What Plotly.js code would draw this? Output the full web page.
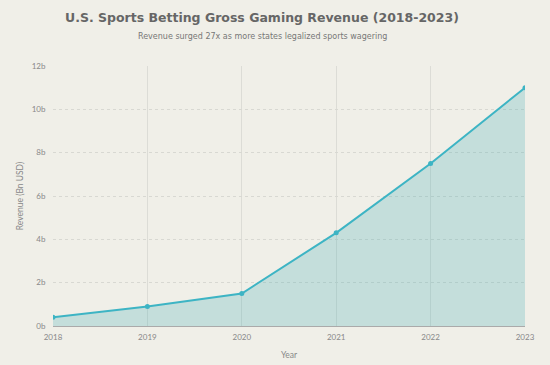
<!DOCTYPE html>
<html>
<head>
<meta charset="utf-8">
<script src="https://cdn.plot.ly/plotly-3.0.1.min.js"></script>
<style>html,body{margin:0;padding:0;background:#f0efe8;}#chart{width:550px;height:365px;}</style>
</head>
<body>
<div id="chart"></div>
<script>
var years = [2018, 2019, 2020, 2021, 2022, 2023];
var revenue = [0.4, 0.9, 1.5, 4.3, 7.5, 11.0];
var yTicks = [0, 2, 4, 6, 8, 10, 12];
var yTickLabels = ["0b", "2b", "4b", "6b", "8b", "10b", "12b"];
var titleText = 'U.S. Sports Betting Gross Gaming Revenue (2018-2023)';
var subtitleText = 'Revenue surged 27x as more states legalized sports wagering';

var trace = {
  x: years,
  y: revenue,
  type: 'scatter',
  mode: 'lines+markers',
  fill: 'tozeroy',
  fillcolor: 'rgba(64,170,180,0.25)',
  line: {color: '#3db4c4', width: 2},
  marker: {color: '#3db4c4', size: 5},
  hoverinfo: 'x+y'
};

var layout = {
  width: 550,
  height: 365,
  paper_bgcolor: '#f0efe8',
  plot_bgcolor: '#f0efe8',
  margin: {l: 53, r: 25, t: 66, b: 39},
  showlegend: false,
  annotations: [
    {text: '<b>' + titleText + '</b>', xref: 'paper', yref: 'paper', x: 0.443, y: 1.188,
     xanchor: 'center', yanchor: 'middle', showarrow: false,
     font: {family: 'DejaVu Sans', size: 12.5, color: '#666'}},
    {text: subtitleText, xref: 'paper', yref: 'paper', x: 0.443, y: 1.113,
     xanchor: 'center', yanchor: 'middle', showarrow: false,
     font: {family: 'DejaVu Sans', size: 8, color: '#777'}}
  ],
  xaxis: {
    range: [2018, 2023],
    tickvals: years,
    ticktext: years.map(String),
    showgrid: true,
    gridcolor: '#dcdcd6',
    gridwidth: 1,
    zeroline: false,
    showline: false,
    ticks: 'outside',
    ticklen: 3,
    tickcolor: 'rgba(0,0,0,0)',
    tickfont: {family: 'Lato', size: 8, color: '#888'},
    title: {text: 'Year', font: {family: 'Lato', size: 8.5, color: '#888'}, standoff: 11}
  },
  yaxis: {
    range: [0, 12],
    tickvals: yTicks,
    ticktext: yTickLabels,
    showgrid: true,
    gridcolor: '#d8d8d2',
    griddash: 'dot',
    zeroline: true,
    zerolinecolor: '#aaa',
    zerolinewidth: 1,
    showline: false,
    ticks: 'outside',
    ticklen: 5,
    tickcolor: 'rgba(0,0,0,0)',
    tickfont: {family: 'Lato', size: 8, color: '#888'},
    title: {text: 'Revenue (Bn USD)', font: {family: 'Lato', size: 8.5, color: '#888'}, standoff: 6}
  }
};

Plotly.newPlot('chart', [trace], layout, {displayModeBar: false, staticPlot: true});
</script>
</body>
</html>
